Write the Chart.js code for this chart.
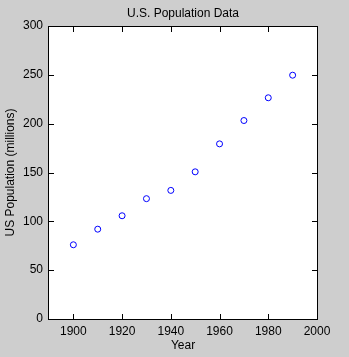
<!DOCTYPE html>
<html>
<head>
<meta charset="utf-8">
<script src="https://cdn.jsdelivr.net/npm/chart.js@4"></script>
<style>
  html, body { margin: 0; padding: 0; background: #cecece; }
  #wrap { width: 349px; height: 357px; }
</style>
</head>
<body>
<div id="wrap"><canvas id="popChart" width="349" height="357"></canvas></div>
<script>
// census years and population (millions)
const years = [1900, 1910, 1920, 1930, 1940, 1950, 1960, 1970, 1980, 1990];
const population = [75.995, 91.972, 105.711, 123.203, 131.669, 150.697, 179.323, 203.212, 226.505, 249.633];
const xTicks = [1900, 1920, 1940, 1960, 1980, 2000];
const yTicks = [0, 50, 100, 150, 200, 250, 300];

const FONT = { family: '"Liberation Sans", Arial, Helvetica, sans-serif', size: 12 };

// axis lines and ticks come from the plugin, so keep the scales bare
const noGrid = { display: false, drawTicks: true, tickLength: 0 };
const noBorder = { display: false };

// white plot area, then a 1px black frame with inward ticks on all sides
const plotBox = {
    id: 'plotBox',
    beforeDraw(chart) {
        const a = chart.chartArea;
        const g = chart.ctx;
        g.save();
        g.fillStyle = '#ffffff';
        g.fillRect(a.left, a.top, a.right - a.left, a.bottom - a.top);
        g.restore();
    },
    afterDraw(chart) {
        const a = chart.chartArea;
        const g = chart.ctx;
        const len = 5;
        const L = Math.round(a.left) - 1, R = Math.round(a.right);
        const T = Math.round(a.top), B = Math.round(a.bottom);
        g.save();
        g.fillStyle = '#000000';
        g.fillRect(L, T, R - L + 1, 1);
        g.fillRect(L, B, R - L + 1, 1);
        g.fillRect(L, T, 1, B - T + 1);
        g.fillRect(R, T, 1, B - T + 1);
        xTicks.forEach(v => {
            const x = Math.round(chart.scales.x.getPixelForValue(v));
            g.fillRect(x, B - len, 1, len);
            g.fillRect(x, T + 1, 1, len);
        });
        yTicks.forEach(v => {
            const y = Math.round(chart.scales.y.getPixelForValue(v));
            g.fillRect(L + 1, y, len, 1);
            g.fillRect(R - len, y, len, 1);
        });
        g.restore();
    }
};

const ctx = document.getElementById('popChart').getContext('2d');
const popChart = new Chart(ctx, {
    type: 'scatter',
    data: {
        datasets: [{
            data: years.map((y, i) => ({ x: y, y: population[i] })),
            pointStyle: 'circle',
            pointRadius: 3,
            pointBorderWidth: 1,
            borderColor: '#0000ff',
            backgroundColor: 'rgba(0,0,0,0)'
        }]
    },
    options: {
        responsive: false,
        animation: false,
        devicePixelRatio: 1,
        layout: { padding: { top: 0, right: 32, bottom: 0, left: 0 } },
        plugins: {
            legend: { display: false },
            tooltip: { enabled: false },
            title: { display: false }
        },
        scales: {
            x: {
                type: 'linear',
                min: 1890,
                max: 2000,
                afterBuildTicks: s => { s.ticks = xTicks.map(v => ({ value: v })); },
                afterFit: s => { s.height = 38; },
                grid: noGrid,
                border: noBorder,
                ticks: { color: '#000', font: FONT, padding: 5, maxRotation: 0, callback: v => String(v) },
                title: { display: true, text: 'Year', color: '#000', font: FONT, padding: { top: 0, bottom: 4 } }
            },
            top: {
                type: 'linear',
                position: 'top',
                min: 1890,
                max: 2000,
                afterFit: s => { s.height = 26; },
                grid: noGrid,
                border: noBorder,
                ticks: { display: false },
                title: { display: true, text: 'U.S. Population Data', color: '#000', font: FONT, padding: { top: 6, bottom: 4 } }
            },
            y: {
                type: 'linear',
                min: 0,
                max: 300,
                afterBuildTicks: s => { s.ticks = yTicks.map(v => ({ value: v })); },
                afterFit: s => { s.width = 49; },
                grid: noGrid,
                border: noBorder,
                ticks: { color: '#000', font: FONT, padding: 6, callback: v => String(v) },
                title: { display: true, text: 'US Population (millions)', color: '#000', font: FONT, padding: { top: 3, bottom: 0 } }
            }
        }
    },
    plugins: [plotBox]
});
</script>
</body>
</html>
